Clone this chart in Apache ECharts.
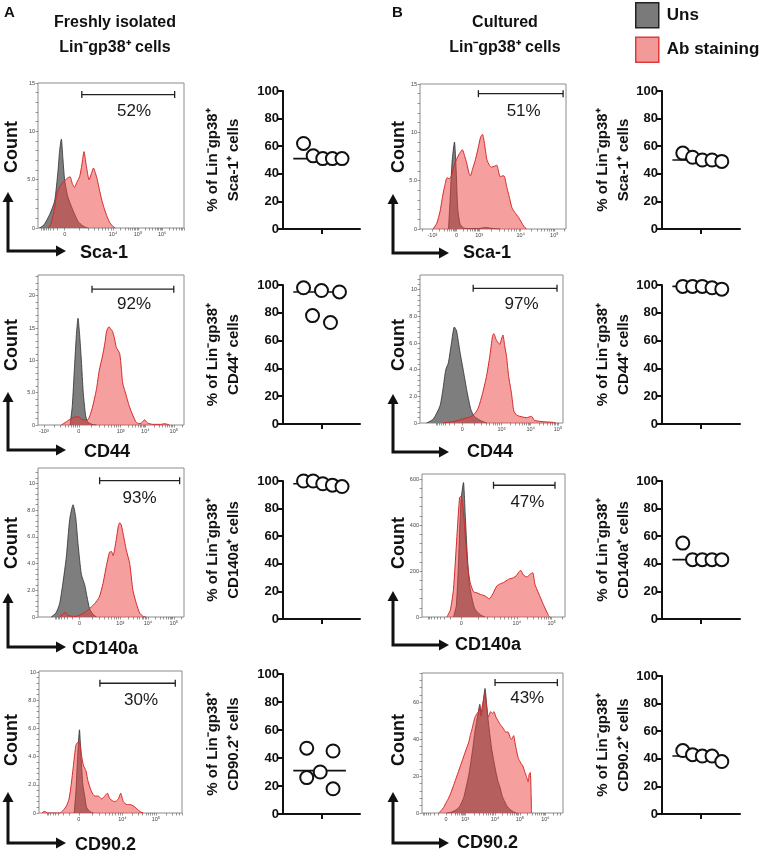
<!DOCTYPE html>
<html><head><meta charset="utf-8">
<script src="https://cdn.jsdelivr.net/npm/echarts@6/dist/echarts.min.js"></script>
<style>html,body{margin:0;padding:0;background:#fff}#c{width:767px;height:855px}</style>
</head><body><div id="c"></div>
<script>
// ---------------- DATA ----------------
const markers = ['Sca-1', 'CD44', 'CD140a', 'CD90.2'];
const dotTitles = ['Sca-1\u207A cells', 'CD44\u207A cells', 'CD140a\u207A cells', 'CD90.2\u207A cells'];

// histogram curves: [display position (0-100 across plot), count]
const sca1FreshUns = [[1,0],[4,0.3],[8,1.4],[11.4,2.8],[13.7,5.9],[14.8,8.0],[16,9.2],[17,7.3],[18.3,4.9],[20.5,3.2],[24,1.8],[27.4,0.7],[30.8,0.2],[34,0]];
const sca1FreshAb = [[7,0],[9,0.5],[11,1.8],[13,3.6],[15,4.3],[17,4.7],[19,5.0],[20.5,5.2],[22,5.3],[23.5,4.6],[25,4.2],[26.5,4.7],[28.5,5.3],[30,6.5],[31.5,7.9],[33,6.5],[35,5.0],[36.5,5.6],[38,6.2],[39.5,5.6],[40.6,5.0],[42,4.0],[43.5,3.0],[45,2.2],[47,1.3],[49,0.6],[51,0.2],[53,0]];
const sca1CultUns = [[19.5,0],[20.6,3],[22,7],[23.6,9.0],[24.8,6],[25.9,2],[27.5,0.5],[30,0.1],[33,0.05],[40,0.05],[45,0.15],[50,0.05],[55,0]];
const sca1CultAb = [[9,0],[11.5,0.6],[13.7,1.8],[15.5,3.4],[17,4.5],[18.5,5.3],[20,5.2],[21.5,5.5],[23,6.4],[25,7.2],[27,7.8],[29,8.2],[30.5,7.6],[32,6.8],[33.5,5.8],[34.5,5.5],[36,6.2],[38,7.2],[40,8.5],[41.5,9.5],[42.8,9.8],[44,9.0],[45.8,7.2],[47.5,6.6],[49,6.4],[51,6.5],[52.6,6.6],[54,5.8],[55,5.4],[56.5,5.5],[57.5,5.5],[59.5,4.3],[61,3.4],[63,2.2],[65,1.7],[67.5,1.2],[71,0.3],[73,0]];
const cd44FreshUns = [[22,0],[23.5,3],[25,9],[26.3,14],[27.4,16.5],[28.5,14],[29.7,10],[31,5],[32.6,1.5],[34,0.5],[37,0.1],[40,0]];
const cd44FreshAb = [[16,0],[19.4,0.5],[22.8,1.0],[25,1.2],[27.4,1.3],[30.8,0.8],[34,0.8],[37,2.5],[40,5.5],[42,8.5],[44,10.5],[45.7,12.5],[47,14.5],[48.6,15.2],[50,14.8],[51,14.5],[52.3,13.5],[53.6,12],[55,11.5],[56,11.0],[57,9],[58,6.5],[60.5,4.5],[62,3.3],[64,2.0],[67,0.5],[69,0.2],[70.8,0.3],[73,0.8],[75,0.3],[78.8,0.1],[84,0.1],[86.8,0.2],[90,0]];
const cd44CultUns = [[4.6,0],[9.3,0.3],[14,1.3],[16,2.5],[18,4.0],[19.8,4.5],[22,6.0],[24,7.2],[25.6,6.9],[28,5.3],[30.7,3.7],[33,2.3],[35.6,1.0],[38,0.5],[42,0.2],[46.5,0]];
const cd44CultAb = [[16,0],[23,0.1],[30,0.3],[36,0.5],[39,0.8],[41,1.2],[43.7,2.2],[46.5,3.5],[48.8,5.0],[50.7,6.5],[51.6,6.7],[53.5,6.2],[55.8,5.9],[57,6.3],[58,6.6],[59.2,5.8],[60.5,5.0],[62,3.5],[64,2.2],[65.6,0.9],[67.5,0.6],[69.8,0.5],[74.4,0.4],[78,0.5],[80,0.2],[86,0.1],[93,0.05],[95,0]];
const cd140aFreshUns = [[9,0],[12.3,0.3],[14.8,1.0],[17,2.5],[19.4,4.5],[21.7,7.3],[24,8.4],[25.8,7.5],[27.4,5.5],[29.7,3.2],[32,2.4],[33.6,1.5],[35.4,0.6],[37.7,0.2],[40,0]];
const cd140aFreshAb = [[14.8,0],[17,0.2],[18.5,0.35],[20.3,0.15],[23,0.05],[26,0.05],[29.7,0.2],[34,0.5],[38.8,1.0],[42,1.5],[44.5,2.5],[46.8,3.8],[49,4.85],[50.3,4.9],[51.4,4.6],[53.6,5.8],[55,6.8],[56,7.05],[57,6.9],[58,6.4],[60.5,5.0],[62.8,4.0],[65,2.0],[67.4,1.0],[69.6,0.3],[72,0.05],[74,0]];
const cd140aCultUns = [[22,0],[24,50],[25.6,250],[27.2,500],[29,585],[30.2,450],[31.4,300],[33,150],[35,80],[37,35],[40.7,10],[44,0]];
const cd140aCultAb = [[17.4,0],[19.8,30],[22,120],[24.4,350],[26.3,520],[27.4,525],[29,450],[30.5,330],[32,220],[33.7,150],[36,110],[38.5,105],[41,98],[44,92],[47,79],[49.5,100],[52.3,135],[55,145],[57,150],[60.5,164],[64,171],[66,180],[67.4,193],[69,203],[70.9,183],[73.3,174],[75.6,186],[77.4,193],[79,142],[81.4,105],[84.9,54],[88.4,7],[89.5,0]];
const cd90FreshUns = [[24.6,0],[25.8,1.5],[27,4],[28.3,5.9],[29.5,3.8],[30.7,2.0],[32.3,1.0],[33.3,0.4],[35.6,0.1],[38,0]];
const cd90FreshAb = [[2,0],[4,0.12],[6,0],[14.5,0],[17,0.2],[19.2,0.5],[21,1.0],[22.5,2.0],[24,3.3],[25.8,4.8],[27,5.0],[28.3,5.0],[29.9,4.0],[31,3.4],[32.8,3.0],[34.4,2.2],[36.8,1.5],[39,1.2],[41.5,1.2],[43.8,1.0],[46,1.2],[47.8,1.4],[49.6,1.0],[53,0.8],[55.5,1.0],[57.1,1.4],[59,0.8],[61.4,0.6],[63.7,0.6],[66,0.5],[68.4,0.3],[70.7,0.1],[73,0]];
const cd90CultUns = [[17.6,0],[21,0.5],[24.7,2],[27,4],[29.4,8],[31,13],[33,20],[34.5,27],[36,35],[37.5,44],[38.8,50],[40,55],[41,59],[42,53],[42.8,55],[43.8,63],[44.7,67.6],[45.8,59],[47,50],[48.2,42],[49.4,35],[51,28],[52.5,22],[54,17],[55.3,14],[57,9],[58.8,6],[60.5,3.5],[62.4,2],[64.5,0.8],[67,0]];
const cd90CultAb = [[11.8,0],[13.5,1.2],[15.3,3],[17,5.5],[18.8,8],[20.5,11],[22.4,15],[24.7,20],[27,25],[28.8,29],[30.6,33],[32,36],[33,38],[34.2,42],[35.3,45],[36.5,49],[37.6,52],[39,54],[40,55],[41,58],[41.6,53],[42.5,57],[43.5,61],[44.7,65],[45.8,58],[47,52],[48.7,55],[50,54],[51,55],[52.5,52],[54,50],[55.5,48],[57.6,46],[59.3,44],[61,44],[62.5,41],[63.5,40],[65,42],[66,38],[67,34],[68.2,30],[69.4,28],[71,26],[71.8,25],[73,22],[74,20],[75.3,17],[76,21],[76.8,22],[77.4,10],[77.6,0]];

// gates: [start, end, level, labelX, labelY, text]
const gateFresh = [[30,93.6,13.8,65.8,12.1,'52%'],[37,93,21.0,65.8,18.7,'92%'],[42.2,97,10.2,69.6,8.9,'93%'],[42.6,95.3,9.2,71.4,8.0,'30%']];
const gateCult  = [[40,98,14.0,71,12.2,'51%'],[37.2,95.8,10.1,71,8.9,'97%'],[50,93,573,73.7,497,'47%'],[51.8,96,70.8,74.6,62.5,'43%']];

// histogram axis ranges and tick labels
const yMaxFresh = [15, 23.2, 11.15, 10.07];
const yMaxCult  = [15, 11.1, 622, 76];
const yTicksFresh = [[0,5,10,15],[0,5,10,15,20],[0,2,4,6,8,10],[0,2,4,6,8,10]];
const yTicksCult  = [[0,5,10,15],[0,2,4,6,8,10],[0,200,400,600],[0,20,40,60]];
const xTicksFresh = [
  [[18.3,'0'],[51.4,'10\u2074'],[68.5,'10\u2075'],[85,'10\u2076']],
  [[4,'-10\u00B3'],[28,'0'],[56.6,'10\u00B3'],[73.5,'10\u2074'],[93,'10\u2075']],
  [[28.5,'0'],[56.4,'10\u00B3'],[75.3,'10\u2074'],[93,'10\u2075']],
  [[27.9,'0'],[58.3,'10\u2074'],[81.7,'10\u2075']]
];
const xTicksCult = [
  [[8.5,'-10\u00B3'],[25,'0'],[40.5,'10\u00B3'],[69,'10\u2074'],[92,'10\u2075']],
  [[29.5,'0'],[57,'10\u00B3'],[77.4,'10\u2074'],[96.5,'10\u2075']],
  [[27.4,'0'],[66.3,'10\u2074'],[90.7,'10\u2075']],
  [[17,'0'],[30.6,'10\u00B3'],[51.8,'10\u2074'],[69.4,'10\u2075'],[87.5,'10\u2076']]
];

// dot plots: percentages of Lin- gp38+ cells, jitter positions, median
const dotFreshVals = [[62,53,51,51,51],[98,96,95,78,73],[100,100,98,97,96],[47,26,30,45,18]];
const dotFreshJit  = [[1.6,2.35,3.1,3.85,4.6],[1.6,3.0,4.4,2.3,3.7],[1.6,2.35,3.1,3.85,4.6],[1.85,1.85,2.9,3.9,3.9]];
const dotFreshMed  = [51,95,98,31];
const dotCultVals  = [[55,52,50,50,49],[99,99,99,98,97],[55,43,43,43,43],[46,43,42,42,38]];
const dotCultJit   = [[1.6,2.35,3.1,3.85,4.6],[1.6,2.35,3.1,3.85,4.6],[1.6,2.35,3.1,3.85,4.6],[1.6,2.35,3.1,3.85,4.6]];
const dotCultMed   = [50,99,43,42];

// ---------------- LAYOUT ----------------
const FONT = 'Arial, "Liberation Sans", Helvetica, sans-serif';
const histFreshBox = [[38,83,146,145],[38,275,146,150],[38,468,146,149],[39,671,143,142]];
const histCultBox  = [[420,84,146,145],[420,275,143,148],[422,474,143,143],[422,673,141,140]];
const dotFreshBox  = [[283,91,77,138],[283,285,77,139],[283,481,77,138],[283,674,77,140]];
const dotCultBox   = [[662,91,78,138],[662,285,78,139],[662,481,78,138],[662,676,78,138]];

const histFreshData = [[sca1FreshUns,sca1FreshAb],[cd44FreshUns,cd44FreshAb],[cd140aFreshUns,cd140aFreshAb],[cd90FreshUns,cd90FreshAb]];
const histCultData  = [[sca1CultUns,sca1CultAb],[cd44CultUns,cd44CultAb],[cd140aCultUns,cd140aCultAb],[cd90CultUns,cd90CultAb]];

const grids = [], xAxes = [], yAxes = [], series = [];

function minorX(ticks) {
  const out = [];
  const pos = ticks.map(t => t[0]);
  for (let i = 0; i < pos.length - 1; i++) {
    const a = pos[i], b = pos[i + 1];
    for (let k = 2; k <= 9; k++) out.push(+(a + (b - a) * Math.log10(k)).toFixed(2));
  }
  const last = pos[pos.length - 1], step = pos.length > 1 ? pos[pos.length - 1] - pos[pos.length - 2] : 15;
  for (let k = 2; k <= 9; k++) { const v = +(last + step * Math.log10(k)).toFixed(2); if (v < 100) out.push(v); }
  const first = pos[0];
  for (let k = 2; k <= 9; k++) { const v = +(first - step * Math.log10(k)).toFixed(2); if (v > 0) out.push(v); }
  return pos.concat(out);
}

function fmtY(v) { return v === 0 ? '0' : (v < 10 ? v.toFixed(1) : String(v)); }

function addHist(box, data, ymax, yticks, xticks, gate) {
  const gi = grids.length;
  grids.push({left: box[0], top: box[1], width: box[2], height: box[3], show: true, borderColor: '#8c8c8c', borderWidth: 1});
  const xmap = {};
  xticks.forEach(t => xmap[String(t[0])] = t[1]);
  xAxes.push({type: 'value', gridIndex: gi, min: 0, max: 100,
    axisLine: {show: false}, splitLine: {show: false},
    axisTick: {show: true, customValues: minorX(xticks), length: 2.5, lineStyle: {color: '#555', width: 0.6}},
    axisLabel: {show: true, customValues: xticks.map(t => t[0]), formatter: v => xmap[String(v)] || '', fontSize: 5.5, color: '#444', margin: 3, fontFamily: FONT}});
  const step = yticks[1] - yticks[0];
  const ytAll = [];
  for (let v = 0; v <= ymax + 1e-9; v += step / 5) ytAll.push(+v.toFixed(4));
  yAxes.push({type: 'value', gridIndex: gi, min: 0, max: ymax,
    axisLine: {show: false}, splitLine: {show: false},
    axisTick: {show: true, customValues: ytAll, length: 2.5, lineStyle: {color: '#555', width: 0.6}},
    axisLabel: {show: true, customValues: yticks, formatter: fmtY, fontSize: 5.5, color: '#444', margin: 3, fontFamily: FONT}});
  series.push({type: 'line', name: 'Uns', xAxisIndex: gi, yAxisIndex: gi, data: data[0], smooth: 0.2, symbol: 'none',
    lineStyle: {color: '#2e2e2e', width: 0.8}, areaStyle: {color: '#707070', opacity: 0.9}, z: 2, silent: true});
  series.push({type: 'line', name: 'Ab staining', xAxisIndex: gi, yAxisIndex: gi, data: data[1], smooth: 0.2, symbol: 'none',
    lineStyle: {color: '#d42a2a', width: 1}, areaStyle: {color: 'rgb(238,64,64)', opacity: 0.5}, z: 3, silent: true});
  series.push({type: 'line', xAxisIndex: gi, yAxisIndex: gi, data: [[gate[0], gate[2]], [gate[1], gate[2]]],
    symbol: 'rect', symbolSize: [1.3, 7], showSymbol: true, lineStyle: {color: '#222', width: 1.3}, itemStyle: {color: '#222'}, z: 4, silent: true});
  series.push({type: 'scatter', xAxisIndex: gi, yAxisIndex: gi, data: [[gate[3], gate[4], gate[5]]], symbolSize: 1,
    itemStyle: {opacity: 0},
    label: {show: true, position: 'inside', formatter: p => p.value[2], fontSize: 17, color: '#1a1a1a', opacity: 1, fontFamily: FONT}, z: 5, silent: true});
}

function addDot(box, vals, jit, med) {
  const gi = grids.length;
  grids.push({left: box[0], top: box[1], width: box[2], height: box[3]});
  xAxes.push({type: 'value', gridIndex: gi, min: 0, max: 6,
    axisLine: {show: true, lineStyle: {color: '#111', width: 2}}, splitLine: {show: false},
    axisTick: {show: true, customValues: [3], length: 5, lineStyle: {color: '#111', width: 2}},
    axisLabel: {show: false}});
  yAxes.push({type: 'value', gridIndex: gi, min: 0, max: 100, interval: 20,
    axisLine: {show: true, lineStyle: {color: '#111', width: 2}}, splitLine: {show: false},
    axisTick: {show: true, length: 5, lineStyle: {color: '#111', width: 2}},
    axisLabel: {fontSize: 13, fontWeight: 'bold', color: '#111', margin: 4, fontFamily: FONT}});
  series.push({type: 'line', xAxisIndex: gi, yAxisIndex: gi, data: [[0.8, med], [4.9, med]], symbol: 'none',
    lineStyle: {color: '#111', width: 1.6}, z: 2, silent: true});
  series.push({type: 'scatter', xAxisIndex: gi, yAxisIndex: gi, data: vals.map((v, i) => [jit[i], v]), symbol: 'circle', symbolSize: 13,
    itemStyle: {color: '#fff', borderColor: '#111', borderWidth: 2, opacity: 1}, clip: false, z: 3, silent: true});
}

for (let r = 0; r < 4; r++) {
  addHist(histFreshBox[r], histFreshData[r], yMaxFresh[r], yTicksFresh[r], xTicksFresh[r], gateFresh[r]);
  addHist(histCultBox[r], histCultData[r], yMaxCult[r], yTicksCult[r], xTicksCult[r], gateCult[r]);
  addDot(dotFreshBox[r], dotFreshVals[r], dotFreshJit[r], dotFreshMed[r]);
  addDot(dotCultBox[r], dotCultVals[r], dotCultJit[r], dotCultMed[r]);
}

// ---------------- GRAPHICS (text, arrows) ----------------
const graphic = [];
function txt(x, y, text, font, opts) {
  graphic.push(Object.assign({type: 'text', x: x, y: y, silent: true,
    style: {text: text, font: font, fill: '#111', textAlign: (opts && opts.align) || 'left', textVerticalAlign: 'middle'}},
    opts && opts.rot ? {rotation: Math.PI / 2} : {}));
}
txt(4, 13, 'A', 'bold 15px ' + FONT);
txt(392, 13, 'B', 'bold 15px ' + FONT);
txt(115, 23, 'Freshly isolated', 'bold 16px ' + FONT, {align: 'center'});
txt(115, 48, 'Lin\u207Bgp38\u207A cells', 'bold 16px ' + FONT, {align: 'center'});
txt(505, 23, 'Cultured', 'bold 16px ' + FONT, {align: 'center'});
txt(505, 48, 'Lin\u207Bgp38\u207A cells', 'bold 16px ' + FONT, {align: 'center'});

const countY = [147, 345, 543, 740];
const cornerL = [[8, 251, 192], [8, 450, 392], [8, 647, 593], [8, 843, 792]];
const cornerR = [[393, 253, 194], [393, 452, 394], [393, 645, 591], [393, 843, 792]];
const labXL = [80, 84, 72, 75];
const labXR = [463, 467, 455, 457];
function arrow(cx, cy, top, tipX) {
  graphic.push({type: 'polyline', silent: true, shape: {points: [[cx, top + 8], [cx, cy], [tipX - 8, cy]]},
    style: {stroke: '#111', lineWidth: 3, fill: null}});
  graphic.push({type: 'polygon', silent: true, shape: {points: [[cx, top], [cx - 5.5, top + 10], [cx + 5.5, top + 10]]}, style: {fill: '#111'}});
  graphic.push({type: 'polygon', silent: true, shape: {points: [[tipX, cy], [tipX - 10, cy - 5.5], [tipX - 10, cy + 5.5]]}, style: {fill: '#111'}});
}
for (let r = 0; r < 4; r++) {
  txt(12, countY[r], 'Count', 'bold 18px ' + FONT, {align: 'center', rot: true});
  txt(399, countY[r], 'Count', 'bold 18px ' + FONT, {align: 'center', rot: true});
  arrow(cornerL[r][0], cornerL[r][1], cornerL[r][2], 66);
  arrow(cornerR[r][0], cornerR[r][1], cornerR[r][2], 449);
  txt(labXL[r], cornerL[r][1] + 2, markers[r], 'bold 18px ' + FONT);
  txt(labXR[r], cornerR[r][1], markers[r], 'bold 18px ' + FONT);
  const ymidL = dotFreshBox[r][1] + dotFreshBox[r][3] / 2;
  const ymidR = dotCultBox[r][1] + dotCultBox[r][3] / 2;
  txt(213, ymidL, '% of Lin\u207Bgp38\u207A', 'bold 15px ' + FONT, {align: 'center', rot: true});
  txt(234, ymidL, dotTitles[r], 'bold 15px ' + FONT, {align: 'center', rot: true});
  txt(603, ymidR, '% of Lin\u207Bgp38\u207A', 'bold 15px ' + FONT, {align: 'center', rot: true});
  txt(624, ymidR, dotTitles[r], 'bold 15px ' + FONT, {align: 'center', rot: true});
}

const chart = echarts.init(document.getElementById('c'), null, {renderer: 'canvas'});
chart.setOption({
  animation: false,
  backgroundColor: '#fff',
  legend: {left: 635, top: 2, padding: 0, orient: 'vertical', icon: 'rect', itemWidth: 23, itemHeight: 25, itemGap: 8, selectedMode: false,
    textStyle: {fontSize: 17, fontWeight: 'bold', color: '#111', fontFamily: FONT, padding: [0, 0, 0, 3]},
    data: [{name: 'Uns', itemStyle: {color: '#7a7a7a', borderColor: '#222', borderWidth: 1.5}},
           {name: 'Ab staining', itemStyle: {color: '#f29a9a', borderColor: '#e03a3a', borderWidth: 1.5}}]},
  grid: grids, xAxis: xAxes, yAxis: yAxes, series: series, graphic: graphic
});
</script></body></html>
